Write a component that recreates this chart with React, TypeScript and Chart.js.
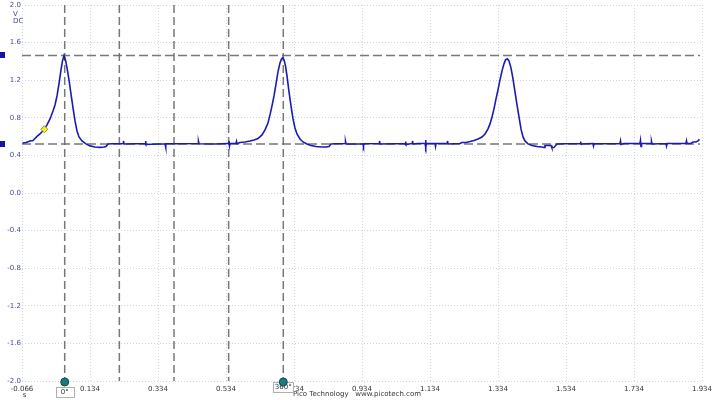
import React, { useEffect, useRef } from 'react';
import { Chart, registerables } from 'chart.js';

Chart.register(...registerables);

// ---- data (seconds, volts) ----
const timeS = [
  -0.0645, -0.0542, -0.0425, -0.0336, -0.0219, -0.013, -0.0013, 0.0075, 0.0164, 0.0252, 0.0311, 0.037,
  0.0428, 0.0487, 0.0531, 0.0575, 0.0619, 0.0664, 0.0722, 0.0781, 0.084, 0.0899, 0.0958, 0.1016,
  0.1105, 0.1222, 0.134, 0.1487, 0.1634, 0.1752, 0.1811, 0.187,
  0.1987, 0.2311, 0.2325, 0.234, 0.2664, 0.2958, 0.2972, 0.2987, 0.334, 0.3546, 0.3561, 0.3575,
  0.3987, 0.4517, 0.4531, 0.4546, 0.5017, 0.5399, 0.5428, 0.5443, 0.5458, 0.5634, 0.5649, 0.5664,
  0.5752, 0.5899, 0.6046, 0.6164,
  0.6281, 0.6399, 0.6487, 0.6575, 0.6634, 0.6693, 0.6752, 0.6811, 0.6869, 0.6928, 0.6972, 0.7008,
  0.7046, 0.709, 0.7134, 0.7193, 0.7252, 0.7311, 0.7369, 0.7428, 0.7516, 0.7605, 0.7722, 0.784,
  0.7987, 0.8164, 0.8281, 0.8369, 0.8428,
  0.8546, 0.884, 0.8855, 0.887, 0.937, 0.9384, 0.9399, 0.984, 0.9855, 0.987, 1.0311, 1.0605,
  1.062, 1.0634, 1.0811, 1.0825, 1.084, 1.0987, 1.1193, 1.1208, 1.1222, 1.1237, 1.1487, 1.1502,
  1.1517, 1.184, 1.1855, 1.187, 1.2222, 1.2281, 1.2399, 1.2517, 1.2634,
  1.2752, 1.2869, 1.2958, 1.3046, 1.3105, 1.3164, 1.3222, 1.3281, 1.334, 1.3399, 1.3458, 1.3516,
  1.3561, 1.3613, 1.3663, 1.3722, 1.3781, 1.384, 1.3899, 1.3958, 1.4016, 1.4075, 1.4134, 1.4222,
  1.434, 1.4487, 1.4634, 1.4693, 1.4722, 1.4899, 1.4928, 1.4987, 1.5075,
  1.5311, 1.5752, 1.5767, 1.5781, 1.6134, 1.6149, 1.6164, 1.6605, 1.6928, 1.6943, 1.6958, 1.7046,
  1.7516, 1.7531, 1.7546, 1.7561, 1.784, 1.7855, 1.787, 1.8281, 1.8296, 1.8311, 1.8664, 1.8869,
  1.8884, 1.8899, 1.9016, 1.9075, 1.9164, 1.9222, 1.9266,
];

const voltsV = [
  0.532, 0.538, 0.554, 0.559, 0.602, 0.628, 0.676, 0.724, 0.788, 0.873, 0.937, 1.033,
  1.161, 1.31, 1.406, 1.459, 1.416, 1.331, 1.203, 1.054, 0.905, 0.767, 0.66, 0.596,
  0.554, 0.522, 0.501, 0.49, 0.485, 0.49, 0.495, 0.522,
  0.524, 0.527, 0.554, 0.522, 0.524, 0.527, 0.554, 0.516, 0.522, 0.522, 0.485, 0.524,
  0.524, 0.527, 0.548, 0.524, 0.522, 0.527, 0.554, 0.501, 0.527, 0.527, 0.548, 0.524,
  0.538, 0.543, 0.554, 0.564,
  0.58, 0.618, 0.671, 0.745, 0.831, 0.927, 1.033, 1.161, 1.289, 1.384, 1.427, 1.438,
  1.416, 1.352, 1.246, 1.076, 0.927, 0.788, 0.692, 0.628, 0.575, 0.543, 0.522, 0.506,
  0.495, 0.49, 0.49, 0.495, 0.522,
  0.524, 0.527, 0.548, 0.522, 0.524, 0.501, 0.524, 0.527, 0.554, 0.522, 0.524, 0.527,
  0.548, 0.516, 0.527, 0.554, 0.522, 0.527, 0.527, 0.564, 0.49, 0.527, 0.527, 0.495,
  0.527, 0.527, 0.554, 0.522, 0.527, 0.538, 0.538, 0.548, 0.559,
  0.575, 0.596, 0.628, 0.682, 0.735, 0.809, 0.895, 1.001, 1.097, 1.203, 1.299, 1.374,
  1.416, 1.427, 1.406, 1.331, 1.214, 1.076, 0.937, 0.809, 0.682, 0.596, 0.554, 0.522,
  0.506, 0.495, 0.49, 0.485, 0.506, 0.506, 0.479, 0.485, 0.522,
  0.524, 0.527, 0.548, 0.522, 0.527, 0.501, 0.524, 0.524, 0.527, 0.554, 0.516, 0.527,
  0.527, 0.559, 0.495, 0.527, 0.527, 0.548, 0.522, 0.527, 0.501, 0.527, 0.527, 0.529,
  0.554, 0.527, 0.527, 0.543, 0.543, 0.554, 0.57,
];

const xTicks = [-0.066, 0.134, 0.334, 0.534, 0.734, 0.934, 1.134, 1.334, 1.534, 1.734, 1.934];
const yTicks = [-2.0, -1.6, -1.2, -0.8, -0.4, 0.0, 0.4, 0.8, 1.2, 1.6, 2.0];

// phase rulers (time, s) and their labels
const rulerTimes = [0.0596, 0.2203, 0.3811, 0.5418, 0.7025];
const rulerLabels = ['0°', '', '', '', '360°'];
// signal rulers (V)
const levelRulers = [1.464, 0.522];
// measurement marker
const markerT = [-0.0004];
const markerV = [0.678];

const FONT = '"DejaVu Sans", "Liberation Sans", sans-serif';

const overlay = {
  id: 'picoOverlay',
  beforeDatasetsDraw(chart: any) {
    const { ctx, chartArea, scales } = chart;
    const x = scales.x;
    const y = scales.y;
    ctx.save();
    ctx.strokeStyle = 'rgba(105,105,105,0.9)';
    ctx.lineWidth = 1.5;
    ctx.setLineDash([8, 4]);
    for (const t of rulerTimes) {
      const px = x.getPixelForValue(t);
      ctx.beginPath();
      ctx.moveTo(px, chartArea.top);
      ctx.lineTo(px, chartArea.bottom);
      ctx.stroke();
    }
    ctx.setLineDash([9, 4]);
    for (const v of levelRulers) {
      const py = y.getPixelForValue(v);
      ctx.beginPath();
      ctx.moveTo(chartArea.left, py);
      ctx.lineTo(chartArea.right - 2, py);
      ctx.stroke();
    }
    ctx.restore();
  },
  afterDraw(chart: any) {
    const { ctx, chartArea, scales } = chart;
    const x = scales.x;
    const y = scales.y;
    ctx.save();
    // ruler handles on the left edge
    ctx.fillStyle = '#1414a0';
    for (const v of levelRulers) {
      const py = y.getPixelForValue(v);
      ctx.fillRect(0, Math.round(py) - 3, 5, 6);
    }
    // units under the top y label
    ctx.font = `7px ${FONT}`;
    ctx.fillStyle = '#4646a6';
    ctx.textAlign = 'left';
    ctx.textBaseline = 'middle';
    ctx.fillText('V', 13, chartArea.top + 9.5);
    ctx.fillText('DC', 13, chartArea.top + 16.5);
    // x unit
    ctx.fillStyle = '#333';
    ctx.textAlign = 'center';
    ctx.fillText('s', x.getPixelForValue(xTicks[0]) + 2.5, 395.5);
    // credit
    ctx.textAlign = 'left';
    ctx.fillText('Pico Technology   www.picotech.com', 293, 394.5);
    // phase ruler labels + handles
    rulerTimes.forEach((t, i) => {
      const label = rulerLabels[i];
      if (!label) return;
      const px = x.getPixelForValue(t);
      const top = i === 0 ? chartArea.bottom + 6 : chartArea.bottom + 1;
      const w = Math.max(18, Math.ceil(ctx.measureText(label).width) + 3);
      const bx = Math.round(px - w / 2) + 0.5;
      const by = Math.round(top) + 0.5;
      ctx.fillStyle = '#ffffff';
      ctx.fillRect(bx, by, w, 10);
      ctx.strokeStyle = '#b0b0b0';
      ctx.lineWidth = 1;
      ctx.strokeRect(bx, by, w, 10);
      ctx.fillStyle = '#333';
      ctx.textAlign = 'center';
      ctx.textBaseline = 'middle';
      ctx.fillText(label, px, top + 5.5);
    });
    rulerTimes.forEach((t, i) => {
      if (!rulerLabels[i]) return;
      const px = x.getPixelForValue(t);
      ctx.beginPath();
      ctx.arc(px, chartArea.bottom + 1, 4, 0, Math.PI * 2);
      ctx.fillStyle = '#1c7a78';
      ctx.fill();
      ctx.strokeStyle = '#0e4a48';
      ctx.lineWidth = 1;
      ctx.stroke();
    });
    ctx.restore();
  },
};

const noScalePadding = (s: any) => {
  s.paddingLeft = 0;
  s.paddingRight = 0;
  s.paddingTop = 0;
  s.paddingBottom = 0;
};

export default function App() {
  const ref = useRef<HTMLCanvasElement | null>(null);

  useEffect(() => {
    if (!ref.current) return;
    const trace = timeS.map((t, i) => ({ x: t, y: voltsV[i] }));
    const marker = markerT.map((t, i) => ({ x: t, y: markerV[i] }));
    const chart = new Chart(ref.current, {
      type: 'scatter',
      data: {
        datasets: [
          {
            data: marker,
            pointStyle: 'rectRot',
            pointRadius: 3.5,
            backgroundColor: '#f4f21c',
            borderColor: '#9a9820',
            borderWidth: 1,
            showLine: false,
            order: 0,
          },
          {
            data: trace,
            showLine: true,
            pointRadius: 0,
            borderColor: '#1a1ab2',
            borderWidth: 1.6,
            tension: 0,
            fill: false,
            order: 1,
          },
        ],
      },
      options: {
        animation: false,
        responsive: false,
        devicePixelRatio: 1,
        layout: { padding: { left: 0, right: 10, top: 5, bottom: 0 } },
        plugins: {
          legend: { display: false },
          tooltip: { enabled: false },
          title: { display: false },
        },
        events: [],
        scales: {
          x: {
            type: 'linear',
            min: xTicks[0],
            max: xTicks[xTicks.length - 1],
            afterBuildTicks: (s: any) => {
              s.ticks = xTicks.map((v) => ({ value: v }));
            },
            afterFit: (s: any) => {
              s.height = 19;
              noScalePadding(s);
            },
            grid: { color: '#c4d6e8', lineWidth: 1, drawTicks: false },
            border: { display: false, dash: [1, 2] },
            ticks: {
              color: '#333333',
              font: { family: FONT, size: 7 },
              padding: 4,
              maxRotation: 0,
              autoSkip: false,
              callback: (v: any) => Number(v).toFixed(3),
            },
          },
          y: {
            type: 'linear',
            min: yTicks[0],
            max: yTicks[yTicks.length - 1],
            afterBuildTicks: (s: any) => {
              s.ticks = yTicks.map((v) => ({ value: v }));
            },
            afterFit: (s: any) => {
              s.width = 22;
              noScalePadding(s);
            },
            grid: { color: '#c4d6e8', lineWidth: 1, drawTicks: false },
            border: { display: false, dash: [1, 2] },
            ticks: {
              color: '#4646a6',
              font: { family: FONT, size: 7 },
              padding: 1,
              autoSkip: false,
              callback: (v: any) => Number(v).toFixed(1),
            },
          },
        },
      },
      plugins: [overlay],
    });
    return () => chart.destroy();
  }, []);

  return (
    <div style={{ position: 'fixed', left: 0, top: 0, width: 712, height: 400, background: '#ffffff' }}>
      <canvas ref={ref} width={712} height={400} style={{ display: 'block', width: 712, height: 400 }} />
    </div>
  );
}
